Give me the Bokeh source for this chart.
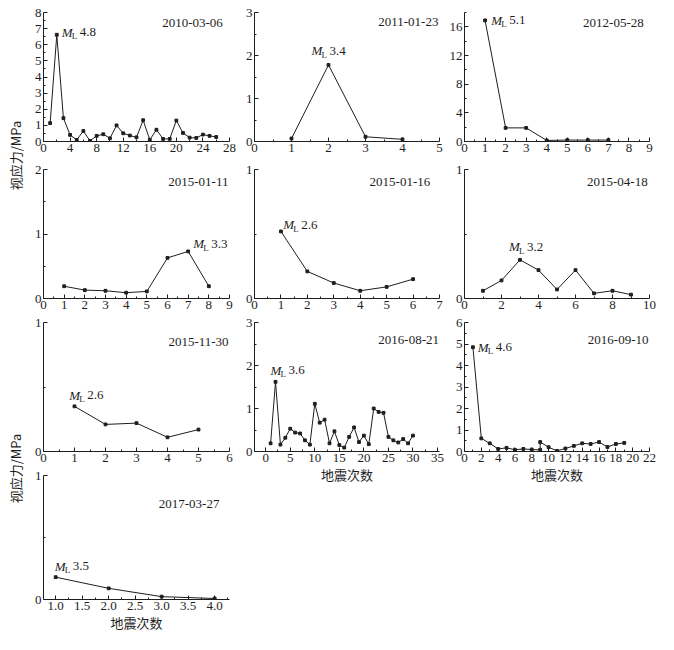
import math
from bokeh.plotting import figure
from bokeh.layouts import row, column
from bokeh.models import Range1d, FixedTicker, Label, NumeralTickFormatter
from bokeh.embed import file_html
from bokeh.resources import INLINE

# ---------------- data ----------------
dates = ["2010-03-06", "2011-01-23", "2012-05-28", "2015-01-11", "2015-01-16",
         "2015-04-18", "2015-11-30", "2016-08-21", "2016-09-10", "2017-03-27"]
mags = ["4.8", "3.4", "5.1", "3.3", "2.6", "3.2", "2.6", "3.6", "4.6", "3.5"]

s1 = [1.14, 6.62, 1.45, 0.41, 0.10, 0.65, 0.04, 0.35, 0.45, 0.20, 1.00, 0.51, 0.37,
      0.26, 1.32, 0.10, 0.73, 0.16, 0.16, 1.30, 0.53, 0.24, 0.22, 0.43, 0.35, 0.28]
s2 = [0.07, 1.78, 0.11, 0.05]
s3 = [16.9, 1.9, 1.9, 0.15, 0.2, 0.2, 0.2]
s4 = [0.19, 0.13, 0.12, 0.09, 0.11, 0.63, 0.73, 0.19]
s5 = [0.52, 0.21, 0.12, 0.06, 0.09, 0.15]
s6 = [0.06, 0.14, 0.30, 0.22, 0.07, 0.22, 0.04, 0.06, 0.03]
s7 = [0.35, 0.21, 0.22, 0.11, 0.17]
s8 = [0.19, 1.62, 0.16, 0.32, 0.53, 0.44, 0.42, 0.26, 0.16, 1.11, 0.67, 0.74, 0.19,
      0.47, 0.15, 0.09, 0.34, 0.56, 0.22, 0.37, 0.17, 1.00, 0.92, 0.90, 0.34, 0.26,
      0.21, 0.29, 0.19, 0.37]
x9 = [1, 2, 3, 4, 5, 6, 7, 8, 9, 9, 10, 11, 12, 13, 14, 15, 16, 17, 18, 19]
s9 = [4.85, 0.61, 0.38, 0.12, 0.17, 0.08, 0.12, 0.09, 0.08, 0.44, 0.20, 0.03, 0.14,
      0.26, 0.38, 0.35, 0.44, 0.21, 0.35, 0.40]
s10 = [0.18, 0.09, 0.023, 0.008]

ylabel = "视应力/MPa"
xlabel = "地震次数"

INK = "#1e1e1e"
SERIF = "Liberation Serif"
CJK = "Noto Sans CJK SC"


def steps(a, b, s):
    out, v = [], a
    while v <= b + 1e-9:
        out.append(round(v, 6))
        v += s
    return out


def panel(xs, ys, xr, yr, xstep, ystep, w, h, mb, date, date_xy, mag, mag_xy,
          xlab=False, xfmt=None, x0=0.0):
    p = figure(width=w, height=h, x_range=Range1d(*xr), y_range=Range1d(*yr),
               output_backend="svg", toolbar_location=None,
               min_border_left=mb[0], min_border_right=mb[1],
               min_border_top=mb[2], min_border_bottom=mb[3])
    p.outline_line_color = None
    p.grid.visible = False
    p.background_fill_color = "white"
    p.border_fill_color = "white"
    p.line(xs, ys, line_color=INK, line_width=1)
    p.scatter(xs, ys, marker="square", size=2.8, color=INK)

    xt = steps(x0, xr[1], xstep)
    xm = steps(x0 + xstep / 2, xr[1], xstep)
    yt = steps(0, yr[1], ystep)
    ym = steps(ystep / 2, yr[1], ystep)
    p.xaxis.ticker = FixedTicker(ticks=xt, minor_ticks=xm)
    p.yaxis.ticker = FixedTicker(ticks=yt, minor_ticks=ym)
    if xfmt:
        p.xaxis.formatter = NumeralTickFormatter(format=xfmt)
    for ax in (p.xaxis[0], p.yaxis[0]):
        ax.major_tick_in = 4
        ax.major_tick_out = 0
        ax.minor_tick_in = 2
        ax.minor_tick_out = 0
        ax.axis_line_color = INK
        ax.major_tick_line_color = INK
        ax.minor_tick_line_color = INK
        ax.major_label_text_font = SERIF
        ax.major_label_text_font_size = "13px"
        ax.major_label_text_color = INK
        ax.major_label_standoff = 2
    if xlab:
        p.xaxis.axis_label = xlabel
        p.xaxis.axis_label_text_font = CJK
        p.xaxis.axis_label_text_font_size = "13px"
        p.xaxis.axis_label_text_font_style = "normal"
        p.xaxis.axis_label_text_color = INK
        p.xaxis.axis_label_standoff = 0

    p.add_layout(Label(x=date_xy[0], y=date_xy[1], text=date, text_align="right",
                       text_baseline="middle", text_font=SERIF,
                       text_font_size="13px", text_color=INK))
    mx, my = mag_xy
    p.add_layout(Label(x=mx, y=my, text="M", text_align="left", text_baseline="middle",
                       text_font=SERIF, text_font_style="italic",
                       text_font_size="13px", text_color=INK))
    p.add_layout(Label(x=mx, y=my, x_offset=10, y_offset=-4, text="L",
                       text_align="left", text_baseline="middle", text_font=SERIF,
                       text_font_size="9px", text_color=INK))
    p.add_layout(Label(x=mx, y=my, x_offset=18, text=mag, text_align="left",
                       text_baseline="middle", text_font=SERIF,
                       text_font_size="13px", text_color=INK))
    return p


def idx(v):
    return list(range(1, len(v) + 1))


LW = 28
W1, W2, W3 = 213, 205, 212
B1 = (15, 12)
B2 = (13, 7)
B3 = (17, 9)
H1, H2, H3, H4 = 161, 154, 153, 166
T1, T2, T3, T4 = (12, 20), (8, 17), (7, 17), (7, 30)

f1 = panel(idx(s1), s1, (0, 28), (0, 8), 4, 1, W1, H1, B1 + T1,
           dates[0], (27.0, 7.33), mags[0], (2.75, 6.79))
f2 = panel(idx(s2), s2, (0, 5), (0, 3), 1, 1, W2, H1, B2 + T1,
           dates[1], (4.97, 2.79), mags[1], (1.54, 2.11))
f3 = panel(idx(s3), s3, (0, 9), (0, 18), 1, 4, W3, H1, B3 + T1,
           dates[2], (8.72, 16.6), mags[2], (1.3, 16.9))
f4 = panel(idx(s4), s4, (0, 9), (0, 2), 1, 1, W1, H2, B1 + T2,
           dates[3], (8.95, 1.80), mags[3], (7.25, 0.85))
f5 = panel(idx(s5), s5, (0, 7), (0, 1), 1, 1, W2, H2, B2 + T2,
           dates[4], (6.65, 0.90), mags[4], (1.09, 0.57))
f6 = panel(idx(s6), s6, (0, 10), (0, 1), 2, 1, W3, H2, B3 + T2,
           dates[5], (9.9, 0.90), mags[5], (2.41, 0.40))
f7 = panel(idx(s7), s7, (0, 6), (0, 1), 1, 1, W1, H3, B1 + T3,
           dates[6], (5.97, 0.85), mags[6], (0.83, 0.435))
f8 = panel(idx(s8), s8, (-2.28, 35.4), (0, 3), 5, 1, W2, 171, B2 + (7, 35),
           dates[7], (35.3, 2.6), mags[7], (1.0, 1.89), xlab=True)
f9 = panel(x9, s9, (0, 22), (0, 6), 2, 1, W3, 171, B3 + (7, 35),
           dates[8], (21.88, 5.2), mags[8], (1.58, 4.85), xlab=True)
f10 = panel(idx(s10), s10, (0.77, 4.28), (0, 1), 0.5, 1, W1, H4, B1 + T4,
            dates[9], (4.09, 0.77), mags[9], (0.98, 0.27), xlab=True, xfmt="0.0",
            x0=1.0)

TOTAL_H = H1 + H2 + H3 + H4

# y-axis titles column (no axes, no title: frame fills the whole canvas)
lf = figure(width=LW, height=TOTAL_H, x_range=Range1d(0, LW),
            y_range=Range1d(0, TOTAL_H), output_backend="svg", title=None,
            toolbar_location=None, x_axis_location=None, y_axis_location=None,
            min_border=0)
lf.grid.visible = False
lf.outline_line_color = None
for yy in (TOTAL_H - 155, TOTAL_H - 468):
    lf.add_layout(Label(x=15, y=yy, text=ylabel, angle=math.pi / 2,
                        text_align="center", text_baseline="middle", text_font=CJK,
                        text_font_size="13px", text_color=INK))

layout = row(lf, column(f1, f4, f7, f10), column(f2, f5, f8), column(f3, f6, f9))

open("out.html", "w").write(file_html(layout, INLINE))
